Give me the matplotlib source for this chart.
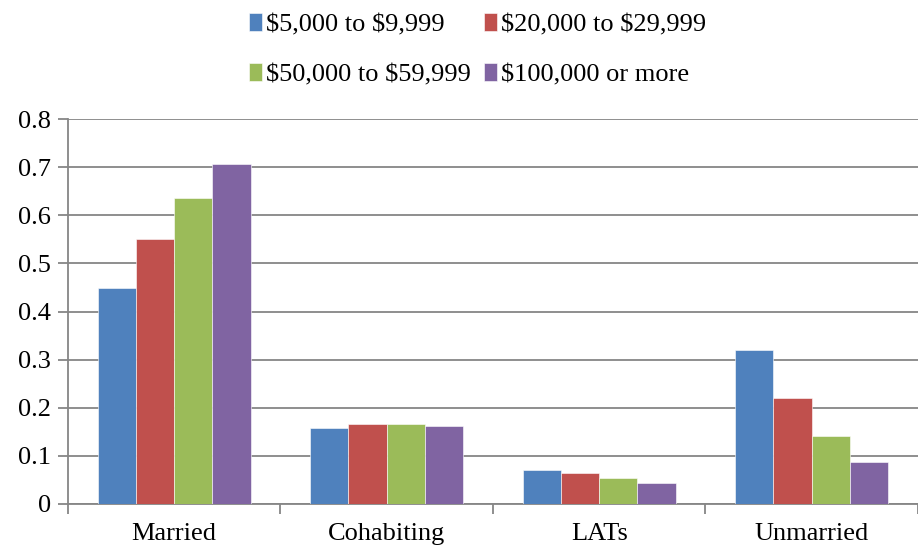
import numpy as np
import matplotlib.pyplot as plt

plt.rcParams['font.family'] = ['Liberation Serif', 'DejaVu Serif']
plt.rcParams['text.parse_math'] = False

categories = ["Married", "Cohabiting", "LATs", "Unmarried"]
series_names = ["$5,000 to $9,999", "$20,000 to $29,999",
                "$50,000 to $59,999", "$100,000 or more"]
low = [0.45, 0.158, 0.071, 0.321]
lower_mid = [0.55, 0.166, 0.064, 0.22]
upper_mid = [0.636, 0.167, 0.055, 0.142]
high = [0.706, 0.162, 0.044, 0.088]
colors = ["#4F81BD", "#C0504D", "#9BBB59", "#8064A2"]

fig = plt.figure(figsize=(9.18, 5.49), dpi=100)
ax = fig.add_axes([0.074, 0.082, 0.926, 0.701])

x = np.arange(len(categories))
w = 0.18
handles = []
for i, vals in enumerate([low, lower_mid, upper_mid, high]):
    b = ax.bar(x + (i - 1.5) * w, vals, w, color=colors[i],
               edgecolor="white", linewidth=0.4, label=series_names[i], zorder=3)
    handles.append(b)

ax.set_xlim(-0.5, 3.5)
ax.set_ylim(0, 0.8)
ax.set_yticks(np.arange(0, 0.81, 0.1))
ax.set_yticklabels(["0"] + ["%.1f" % v for v in np.arange(0.1, 0.81, 0.1)])
ax.yaxis.grid(True, color="#868686", linewidth=1.3, zorder=0)

# category labels centred, tick marks at boundaries
ax.set_xticks(x)
ax.set_xticklabels(categories)
ax.tick_params(axis="x", length=0, labelsize=19, pad=14)
ax.set_xticks(np.arange(-0.5, 4.0, 1.0), minor=True)
ax.tick_params(axis="x", which="minor", length=7, color="#868686", width=1.3)
ax.tick_params(axis="y", labelsize=19, length=7, color="#868686", width=1.3, pad=5)

for s in ["top", "right"]:
    ax.spines[s].set_visible(False)
for s in ["left", "bottom"]:
    ax.spines[s].set_color("#868686")
    ax.spines[s].set_linewidth(1.3)

order = [0, 2, 1, 3]
fig.legend([handles[i] for i in order], [series_names[i] for i in order],
           loc="upper center", bbox_to_anchor=(0.52, 1.02), ncol=2,
           frameon=False, fontsize=19, handlelength=0.5, handleheight=0.7,
           handletextpad=0.15, columnspacing=0.5, labelspacing=1.0)

fig.savefig("out.png", dpi=100)
